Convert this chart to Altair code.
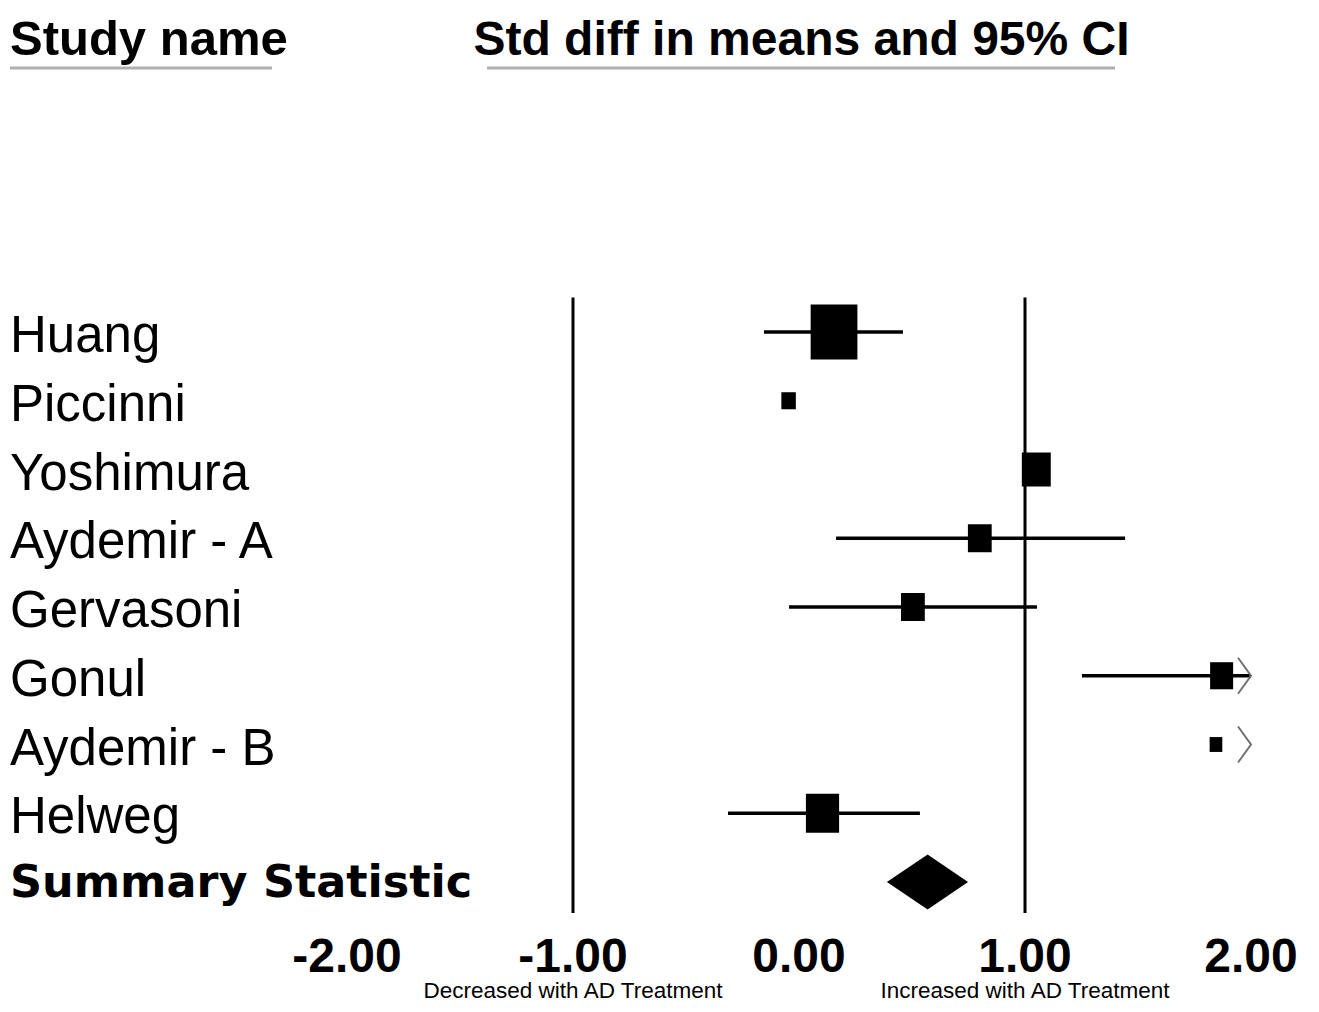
import altair as alt
import pandas as pd

# ---------------- data ----------------
studies = ["Huang", "Piccinni", "Yoshimura", "Aydemir - A", "Gervasoni",
           "Gonul", "Aydemir - B", "Helweg"]
std_diff = [0.155, -0.046, 1.05, 0.80, 0.504, 1.87, 1.845, 0.104]
ci_lower = [-0.155, None, None, 0.164, -0.044, 1.252, None, -0.314]
ci_upper = [0.46, None, None, 1.443, 1.053, 2.49, None, 0.535]
rel_weight = [35.5, 3.4, 13.6, 9.2, 9.2, 8.6, 2.6, 17.9]
beyond_axis = [False, False, False, False, False, True, True, False]

summary_label = "Summary Statistic"
summary_est = 0.569
summary_lower = 0.389
summary_upper = 0.748

tick_values = [-2, -1, 0, 1, 2]
tick_labels = ["-2.00", "-1.00", "0.00", "1.00", "2.00"]
reference_lines = [-1, 1]
direction_labels = ["Decreased with AD Treatment", "Increased with AD Treatment"]
direction_pos = [-1, 1]
axis_limit = 2.0

header_left = "Study name"
header_right = "Std diff in means and 95% CI"

# ---------------- tables ----------------
n = len(studies)
rows = pd.DataFrame({
    "study": studies,
    "row": list(range(n)),
    "est": std_diff,
    "lo": ci_lower,
    "hi": ci_upper,
    "weight": rel_weight,
    "beyond": beyond_axis,
})
summary_row = n
diamond_half = 0.4
diamond = pd.DataFrame({
    "x": [summary_lower, summary_est, summary_upper],
    "y0": [summary_row, summary_row - diamond_half, summary_row],
    "y1": [summary_row, summary_row + diamond_half, summary_row],
})
refs = pd.DataFrame({"x": reference_lines, "y0": [-0.5] * len(reference_lines),
                     "y1": [8.45] * len(reference_lines)})
ticks = pd.DataFrame({"v": tick_values, "label": tick_labels})
directions = pd.DataFrame({"v": direction_pos, "label": direction_labels})
summ = pd.DataFrame({"label": [summary_label], "row": [summary_row]})

xs = alt.Scale(domain=[-3.5, 2.2655], nice=False, zero=False)
ys = alt.Scale(domain=[-4.7127, 9.7745], nice=False, zero=False, reverse=True)

base = alt.Chart(rows)

ref_layer = alt.Chart(refs).mark_rule(color="black", strokeWidth=3).encode(
    x=alt.X("x:Q", scale=xs, axis=None),
    y=alt.Y("y0:Q", scale=ys, axis=None),
    y2="y1:Q",
)

ci_layer = base.transform_filter("isValid(datum.lo)").transform_calculate(
    hi_c=f"min(datum.hi, {axis_limit})"
).mark_rule(color="black", strokeWidth=3.5).encode(
    x=alt.X("lo:Q", scale=xs, axis=None),
    x2="hi_c:Q",
    y=alt.Y("row:Q", scale=ys, axis=None),
)

square_layer = base.mark_point(
    shape="M-0.85,-1H0.85V1H-0.85Z", filled=True, color="black", opacity=1,
    strokeWidth=0,
).encode(
    x=alt.X("est:Q", scale=xs, axis=None),
    y=alt.Y("row:Q", scale=ys, axis=None),
    size=alt.Size("weight:Q", scale=alt.Scale(domain=[0, 35.5], range=[0, 3025]),
                  legend=None),
)

arrow_layer = base.transform_filter("datum.beyond").transform_calculate(
    tip=f"{axis_limit}"
).mark_point(
    shape="M-0.72,-1L0,0L-0.72,1", filled=False, color="#707070",
    strokeWidth=2, size=1296, opacity=1,
).encode(
    x=alt.X("tip:Q", scale=xs, axis=None),
    y=alt.Y("row:Q", scale=ys, axis=None),
)

diamond_layer = alt.Chart(diamond).mark_area(color="black", orient="vertical",
                                             opacity=1).encode(
    x=alt.X("x:Q", scale=xs, axis=None),
    y=alt.Y("y0:Q", scale=ys, axis=None),
    y2="y1:Q",
)

label_layer = base.mark_text(
    align="left", baseline="alphabetic", font="Liberation Sans", fontSize=51,
    dy=20, color="black",
).encode(
    x=alt.value(2),
    y=alt.Y("row:Q", scale=ys, axis=None),
    text="study:N",
)

summary_text = alt.Chart(summ).mark_text(
    align="left", baseline="alphabetic", font="DejaVu Sans", fontWeight="bold",
    fontSize=44.5, dy=15, color="black",
).encode(
    x=alt.value(2),
    y=alt.Y("row:Q", scale=ys, axis=None),
    text="label:N",
)

tick_layer = alt.Chart(ticks).mark_text(
    align="center", baseline="alphabetic", font="Liberation Sans",
    fontWeight="bold", fontSize=48, color="black",
).encode(
    x=alt.X("v:Q", scale=xs, axis=None),
    y=alt.value(964),
    text="label:N",
)

direction_layer = alt.Chart(directions).mark_text(
    align="center", baseline="alphabetic", font="Liberation Sans",
    fontSize=22.5, color="black",
).encode(
    x=alt.X("v:Q", scale=xs, axis=None),
    y=alt.value(990),
    text="label:N",
)

hdr = pd.DataFrame({"t": [header_left]})
hdr2 = pd.DataFrame({"t": [header_right]})
header1 = alt.Chart(hdr).mark_text(
    align="left", baseline="alphabetic", font="Liberation Sans",
    fontWeight="bold", fontSize=49, color="black",
).encode(x=alt.value(2), y=alt.value(47), text="t:N")
header2 = alt.Chart(hdr2).mark_text(
    align="center", baseline="alphabetic", font="Liberation Sans",
    fontWeight="bold", fontSize=48, color="black",
).encode(x=alt.value(793.5), y=alt.value(47), text="t:N")

underline1 = alt.Chart(hdr).mark_rule(color="#b0b0b0", strokeWidth=3).encode(
    x=alt.value(2), x2=alt.value(264), y=alt.value(60))
underline2 = alt.Chart(hdr2).mark_rule(color="#b0b0b0", strokeWidth=3).encode(
    x=alt.value(479), x2=alt.value(1107), y=alt.value(60))

chart = alt.layer(
    ref_layer, ci_layer, square_layer, arrow_layer, diamond_layer,
    label_layer, summary_text, tick_layer, direction_layer,
    header1, header2, underline1, underline2,
).properties(
    width=1303, height=996, padding=0, autosize=alt.AutoSizeParams(type="none"),
    background="white",
).configure_view(stroke=None)

chart.save("out.html", embed_options={"renderer": "svg", "actions": False})
